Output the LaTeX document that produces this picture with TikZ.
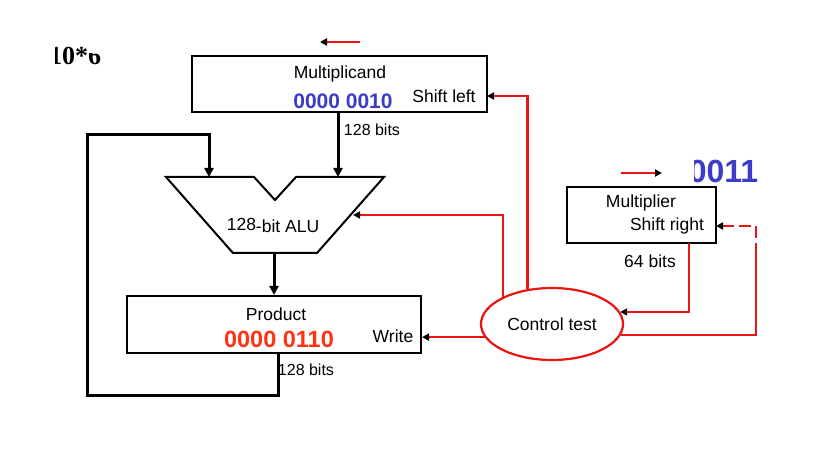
\documentclass[tikz,border=0pt]{standalone}
\usepackage{fontspec}
\setmainfont{Liberation Sans}
\newfontfamily\serifbold{Liberation Serif}
\usetikzlibrary{arrows.meta,shapes.geometric,calc}
\definecolor{numblue}{RGB}{60,60,200}
\definecolor{numred}{RGB}{255,50,20}
\definecolor{ctred}{RGB}{235,20,20}
\tikzset{
  regbox/.style={draw=black,line width=2pt,rectangle,inner sep=0pt},
  bus/.style={line width=3pt,line cap=butt},
  bustip/.style={-{Triangle[length=9pt,width=9pt]}},
  ctl/.style={draw=ctred,line width=2.2pt},
  ctltip/.style={-{Triangle[length=7pt,width=7pt,color=black]}},
  lbl/.style={inner sep=0pt,font=\fontsize{17.5}{19}\selectfont},
  bits/.style={inner sep=0pt,font=\fontsize{16}{18}\selectfont},
  num/.style={inner sep=0pt,font=\fontsize{21}{23}\selectfont\bfseries},
}
\begin{document}
\begin{tikzpicture}[x=1pt,y=-1pt]
\useasboundingbox[fill=white] (0,0) rectangle (820,449);

% top-left clipped text
\begin{scope}
\clip (54.5,38) -- (88,38) -- (88,53) -- (112,53) -- (112,75) -- (54.5,75) -- cycle;
\node[inner sep=0pt,anchor=base,font=\serifbold\fontsize{26}{28}\selectfont\bfseries] (eq) at (75,65) {10*6};
\end{scope}

% registers
\node[regbox,minimum width=295pt,minimum height=56pt] (mcand) at (339.5,84) {};
\node[regbox,minimum width=294pt,minimum height=57pt] (prod) at (274,324.5) {};
\node[regbox,minimum width=149pt,minimum height=56pt] (mplier) at (641.5,215) {};

\node[lbl] (mcandT) at (340,74) {Multiplicand};
\node[num,text=numblue] (mcandV) at (343,101) {0000 0010};
\node[lbl] (shl) at (444,96) {Shift left};
\node[bits] (b1) at (372,130) {128 bits};

\node[lbl] (prodT) at (276,314) {Product};
\node[num,text=numred,font=\fontsize{23.5}{25}\selectfont\bfseries] (prodV) at (279,339) {0000 0110};
\node[lbl] (wr) at (393,336) {Write};
\node[bits] (b2) at (306,370) {128 bits};

\node[lbl] (mplT) at (641,203) {Multiplier};
\node[lbl] (shr) at (667,226) {Shift right};
\node[lbl] (b3) at (650,261) {64 bits};

\begin{scope}
\clip (694,158) rectangle (770,195);
\node[inner sep=0pt,anchor=base,text=numblue,font=\fontsize{32}{34}\selectfont\bfseries] (mplV) at (723.5,183) {0011};
\end{scope}

% ALU
\coordinate (aluA) at (166,177);
\coordinate (aluB) at (254,177);
\coordinate (aluC) at (275,200);
\coordinate (aluD) at (296,177);
\coordinate (aluE) at (384,177);
\coordinate (aluF) at (317,253);
\coordinate (aluG) at (233,253);
\draw[line width=2pt,line join=miter] (aluA) -- (aluB) -- (aluC) -- (aluD) -- (aluE) -- (aluF) -- (aluG) -- cycle;
\node[lbl] (alu) at (273,225) {\raisebox{2pt}{128}-bit ALU};
\coordinate (aluR) at (353,215);
\coordinate (aluInL) at (209,177);
\coordinate (aluInR) at (338,177);
\coordinate (aluOut) at (274,253);

% control
\node[ctl,ellipse,minimum width=142pt,minimum height=72pt,inner sep=0pt,font=\fontsize{17.5}{19}\selectfont] (ct) at (552,324) {Control test};

% data buses
\draw[bus,bustip] (mcand.south -| aluInR) -- (aluInR);
\draw[bus,bustip] (aluOut) -- (prod.north -| aluOut);
\draw[bus,bustip,line join=miter] (prod.south -| 278,0) -- (278,395) -- (87,395) -- (87,135) -- (209,135) -- (aluInL);

% control lines
\coordinate (mcandP) at (487,96);
\coordinate (mplP) at (716,226);
\draw[ctl,ctltip] (ct.125) |- (mcandP);
\draw[ctl,ctltip] (ct.151) |- (aluR);
\draw[ctl,ctltip] (ct.191) -- (ct.191 -| prod.east);
\draw[ctl,ctltip] (689,243) |- (ct.10);
\coordinate (dashStart) at (756,255);
\draw[ctl] (ct.-9) -| (dashStart);
\draw[ctl,ctltip,dash pattern=on 12pt off 5pt] (dashStart) |- (mplP);

% shift direction arrows
\coordinate (sl1) at (360,42);
\coordinate (sl2) at (320,42);
\coordinate (sr1) at (621,173);
\coordinate (sr2) at (662,173);
\draw[ctl,ctltip] (sl1) -- (sl2);
\draw[ctl,ctltip] (sr1) -- (sr2);
\end{tikzpicture}
\end{document}
